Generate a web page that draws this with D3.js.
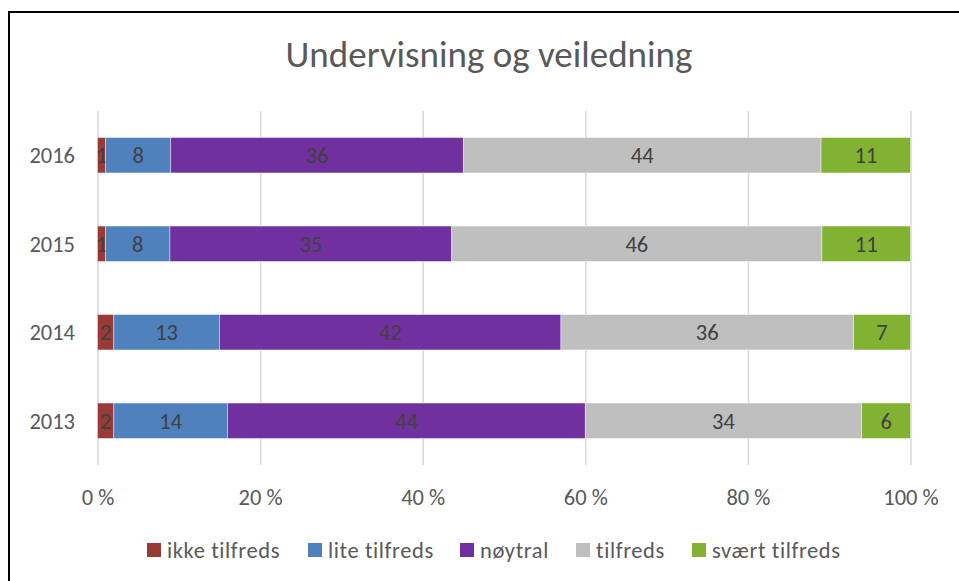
<!DOCTYPE html>
<html>
<head>
<meta charset="utf-8">
<script src="https://cdn.jsdelivr.net/npm/d3@7"></script>
<style>
  body { margin: 0; background: #fff; }
  text { font-family: Carlito, Calibri, Lato, sans-serif; }
</style>
</head>
<body>
<div id="chart"></div>
<script>

var years = ['2016', '2015', '2014', '2013'];
var categories = ['ikke tilfreds', 'lite tilfreds', 'nøytral', 'tilfreds', 'svært tilfreds'];
var ikke_tilfreds = [1, 1, 2, 2];
var lite_tilfreds = [8, 8, 13, 14];
var noytral = [36, 35, 42, 44];
var tilfreds = [44, 46, 36, 34];
var svaert_tilfreds = [11, 11, 7, 6];
var ticks = [0, 20, 40, 60, 80, 100];

var COLORS = ['#993a36', '#4f81bd', '#7030a0', '#bfbfbf', '#82b232'];

var W = 959, H = 581;
var plot = { left: 97.5, right: 910.5, top: 111, bottom: 465 };
var FONT = 22.5;

var series = [ikke_tilfreds, lite_tilfreds, noytral, tilfreds, svaert_tilfreds];

// one row per year, shares stacked to 100 %
var rows = years.map(function(y, i) {
    var r = { year: y };
    categories.forEach(function(c, k) { r[c] = series[k][i]; });
    return r;
});

var stack = d3.stack()
    .keys(categories)
    .offset(d3.stackOffsetExpand);
var layers = stack(rows);

var sx = d3.scaleLinear()
    .domain([0, 1])
    .range([plot.left, plot.right]);
var sy = d3.scaleBand()
    .domain(years)
    .range([plot.top, plot.bottom])
    .paddingInner(0.6)
    .paddingOuter(0.3);

var svg = d3.select('#chart').append('svg')
    .attr('width', W)
    .attr('height', H);

// chart frame
svg.append('rect')
    .attr('x', 9)
    .attr('y', 12)
    .attr('width', 1000)
    .attr('height', 1000)
    .attr('fill', '#fff')
    .attr('stroke', '#000')
    .attr('stroke-width', 2);

svg.append('text')
    .attr('x', 489)
    .attr('y', 67)
    .attr('text-anchor', 'middle')
    .attr('font-size', 37)
    .attr('fill', '#595959')
    .text('Undervisning og veiledning');

// vertical gridlines + tick labels
var ax = d3.axisBottom(d3.scaleLinear().domain([0, 100]).range([plot.left, plot.right]))
    .tickValues(ticks)
    .tickSize(-(plot.bottom - plot.top))
    .tickPadding(0)
    .tickFormat(function(d) { return d + ' %'; });

var gx = svg.append('g')
    .attr('transform', 'translate(0,' + plot.bottom + ')')
    .call(ax);
gx.select('.domain').remove();
gx.selectAll('.tick line')
    .attr('stroke', '#d9d9d9')
    .attr('stroke-width', 1.5);
gx.selectAll('.tick text')
    .attr('y', 40)
    .attr('dy', 0)
    .attr('font-size', FONT)
    .attr('fill', '#595959');

var ay = d3.axisLeft(sy).tickSize(0).tickPadding(0);
var gy = svg.append('g')
    .attr('transform', 'translate(75,0)')
    .call(ay);
gy.select('.domain').remove();
gy.selectAll('.tick text')
    .attr('font-size', FONT)
    .attr('fill', '#595959')
    .attr('dy', '0.35em');

// bars
var gl = svg.append('g').selectAll('g')
    .data(layers)
    .enter().append('g')
    .attr('fill', function(d, i) { return COLORS[i]; });

gl.selectAll('rect')
    .data(function(d) { return d; })
    .enter().append('rect')
    .attr('x', function(d) { return sx(d[0]); })
    .attr('y', function(d) { return sy(d.data.year); })
    .attr('width', function(d) { return sx(d[1]) - sx(d[0]); })
    .attr('height', sy.bandwidth())
    .attr('stroke', '#fff')
    .attr('stroke-opacity', 0.5)
    .attr('stroke-width', 0.8);

gl.selectAll('text')
    .data(function(d) { return d.map(function(p) { p.key = d.key; return p; }); })
    .enter().append('text')
    .attr('x', function(d) { return (sx(d[0]) + sx(d[1])) / 2; })
    .attr('y', function(d) { return sy(d.data.year) + sy.bandwidth() / 2; })
    .attr('dy', '0.35em')
    .attr('text-anchor', 'middle')
    .attr('font-size', FONT)
    .attr('fill', '#404040')
    .text(function(d) { return d.data[d.key]; });

// legend
var legend_x = [147, 308, 460, 576, 692];
var lg = svg.append('g').selectAll('g')
    .data(categories)
    .enter().append('g')
    .attr('transform', function(d, i) { return 'translate(' + legend_x[i] + ',543)'; });
lg.append('rect')
    .attr('width', 14)
    .attr('height', 14)
    .attr('fill', function(d, i) { return COLORS[i]; });
lg.append('text')
    .attr('x', 20)
    .attr('y', 7)
    .attr('dy', '0.35em')
    .attr('font-size', FONT)
    .attr('letter-spacing', 0.6)
    .attr('fill', '#595959')
    .text(function(d) { return d; });

</script>
</body>
</html>
